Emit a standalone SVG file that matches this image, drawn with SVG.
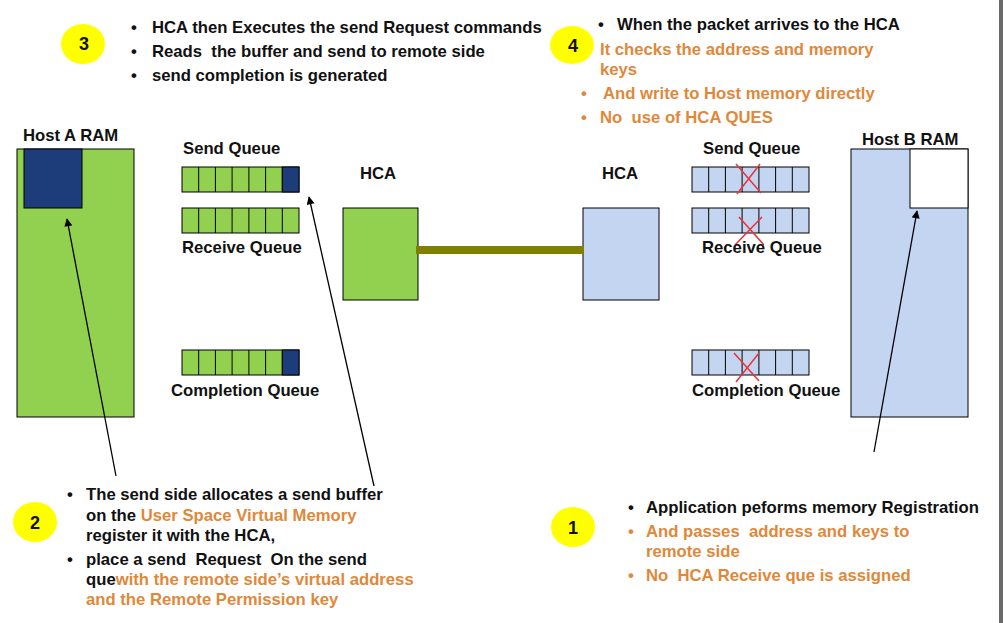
<svg xmlns="http://www.w3.org/2000/svg" width="1003" height="623" viewBox="0 0 1003 623">
<defs>
<style>
text{font-family:"Liberation Sans",Arial,sans-serif;font-weight:bold;font-size:16.7px;fill:#111;white-space:pre}
.o{fill:#E0883A}
.num{font-size:18px;text-anchor:middle}
.g{fill:#92D050;stroke:#000;stroke-width:1}
.b{fill:#C4D5F1;stroke:#000;stroke-width:1}
.d{fill:#1C3C7A;stroke:#000;stroke-width:1}
.c{fill:#FFFF00}
.x{stroke:#E8333A;stroke-width:1.5}
.arr{stroke:#000;stroke-width:1.3;fill:none;marker-end:url(#ah)}
</style>
<marker id="ah" viewBox="0 0 10 10" refX="9" refY="5" markerWidth="10" markerHeight="8" markerUnits="userSpaceOnUse" orient="auto">
<path d="M0,0 L10,5 L0,10 z" fill="#000"/>
</marker>
<g id="cellsG">
<rect class="g" x="0" y="0" width="117" height="25"/>
<path d="M16.7,0V25M33.4,0V25M50.1,0V25M66.9,0V25M83.6,0V25M100.3,0V25" stroke="#000" stroke-width="1"/>
</g>
<g id="cellsB">
<rect class="b" x="0" y="0" width="117" height="25"/>
<path d="M16.7,0V25M33.4,0V25M50.1,0V25M66.9,0V25M83.6,0V25M100.3,0V25" stroke="#000" stroke-width="1"/>
</g>
</defs>
<rect width="1003" height="623" fill="#fff"/>
<rect x="999" y="0" width="4" height="623" fill="#6a6a6a"/>

<g id="hostA">
<rect class="g" x="17" y="149" width="117" height="268"/>
<rect class="d" x="24" y="149" width="58" height="59"/>
<text x="23" y="141">Host A RAM</text>
</g>
<g id="sendQA">
<use href="#cellsG" x="182" y="167"/>
<rect class="d" x="282.3" y="167" width="16.7" height="25"/>
<text x="183" y="154">Send Queue</text>
</g>
<g id="recvQA">
<use href="#cellsG" x="182" y="208"/>
<text x="182" y="253">Receive Queue</text>
</g>
<g id="compQA">
<use href="#cellsG" x="182" y="350"/>
<rect class="d" x="282.3" y="350" width="16.7" height="25"/>
<text x="171" y="396">Completion Queue</text>
</g>
<g id="hcaA">
<rect class="g" x="343" y="208" width="75" height="92"/>
<text x="360" y="179">HCA</text>
</g>
<g id="hcaB">
<rect class="b" x="583" y="208" width="76" height="92"/>
<text x="602" y="179">HCA</text>
</g>
<g id="sendQB">
<use href="#cellsB" x="692" y="167"/>
<path class="x" d="M736,164L761,193M760,164L737,194"/>
<text x="703" y="154">Send Queue</text>
</g>
<g id="recvQB">
<use href="#cellsB" x="692" y="208"/>
<path class="x" d="M739,217L764,245M762,217L735,245"/>
<text x="702" y="253">Receive Queue</text>
</g>
<g id="compQB">
<use href="#cellsB" x="692" y="350"/>
<path class="x" d="M734,353L759,381M759,353L736,382"/>
<text x="692" y="396">Completion Queue</text>
</g>
<g id="hostB">
<rect class="b" x="851" y="149" width="117" height="268"/>
<rect x="910" y="149" width="58" height="59" fill="#fff" stroke="#000" stroke-width="1"/>
<text x="862" y="145">Host B RAM</text>
</g>

<g id="connectors">
<line x1="416" y1="250" x2="584" y2="250" stroke="#808000" stroke-width="8"/>
<line class="arr" x1="116" y1="476" x2="67" y2="219"/>
<line class="arr" x1="374" y1="486" x2="309" y2="197"/>
<line class="arr" x1="874" y1="452" x2="917" y2="211"/>
</g>

<g id="step3">
<ellipse class="c" cx="83" cy="44" rx="22" ry="20"/>
<text class="num" x="84" y="50">3</text>
<text x="131" y="33">•</text><text x="152" y="33">HCA then Executes the send Request commands</text>
<text x="131" y="57">•</text><text x="152" y="57">Reads  the buffer and send to remote side</text>
<text x="131" y="81">•</text><text x="152" y="81">send completion is generated</text>
</g>
<g id="step4">
<ellipse class="c" cx="572" cy="45" rx="22" ry="19"/>
<text class="num" x="573" y="52">4</text>
<text x="598" y="30">•</text><text x="617" y="30">When the packet arrives to the HCA</text>
<text class="o" x="600" y="55">It checks the address and memory</text>
<text class="o" x="600" y="75">keys</text>
<text class="o" x="581" y="99">•</text><text class="o" x="603" y="99">And write to Host memory directly</text>
<text class="o" x="581" y="123">•</text><text class="o" x="600" y="123">No  use of HCA QUES</text>
</g>
<g id="step2">
<ellipse class="c" cx="35" cy="522" rx="22" ry="20"/>
<text class="num" x="35" y="529">2</text>
<text x="67" y="500">•</text><text x="86" y="500">The send side allocates a send buffer</text>
<text x="86" y="521">on the <tspan class="o">User Space Virtual Memory</tspan></text>
<text x="86" y="541">register it with the HCA,</text>
<text x="67" y="565">•</text><text x="86" y="565">place a send  Request  On the send</text>
<text x="86" y="585">que<tspan class="o">with the remote side’s virtual address</tspan></text>
<text class="o" x="86" y="605">and the Remote Permission key</text>
</g>
<g id="step1">
<ellipse class="c" cx="573" cy="527" rx="22" ry="20"/>
<text class="num" x="573" y="534">1</text>
<text x="628" y="513">•</text><text x="646" y="513">Application peforms memory Registration</text>
<text class="o" x="628" y="537">•</text><text class="o" x="646" y="537">And passes  address and keys to</text>
<text class="o" x="646" y="557">remote side</text>
<text class="o" x="628" y="581">•</text><text class="o" x="646" y="581">No  HCA Receive que is assigned</text>
</g>
</svg>
